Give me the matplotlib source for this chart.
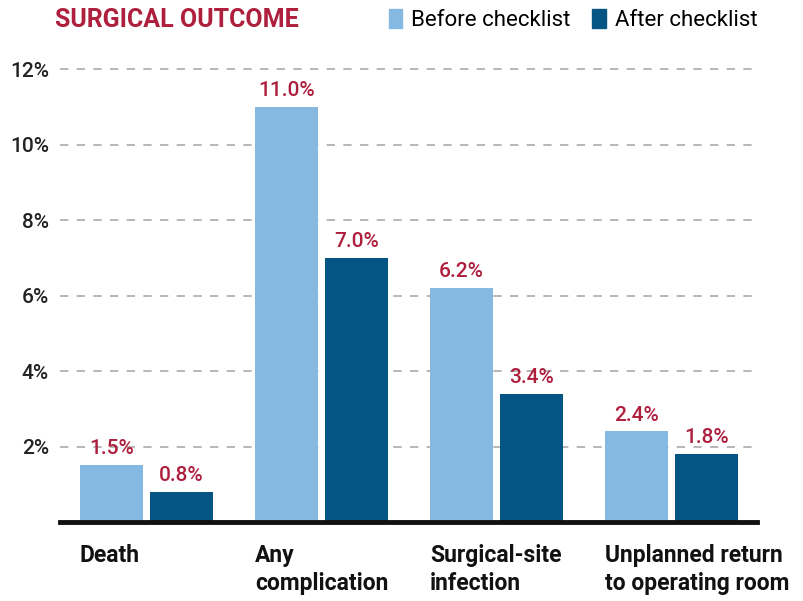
import numpy as np
import matplotlib.pyplot as plt
from matplotlib.patches import Patch

categories = ['Death', 'Any\ncomplication', 'Surgical-site\ninfection', 'Unplanned return\nto operating room']
before = [1.5, 11.0, 6.2, 2.4]
after = [0.8, 7.0, 3.4, 1.8]
yticks = [2, 4, 6, 8, 10, 12]

c_before = '#85B9E2'
c_after = '#055584'
c_red = '#AE1F3E'

plt.rcParams['font.family'] = ['Roboto', 'DejaVu Sans']

fig = plt.figure(figsize=(8.04, 6.01), dpi=100)
ax = fig.add_axes([0.0746, 0.1314, 0.867, 0.769])

x = np.arange(len(categories))
w = 0.36
off = 0.2
b1 = ax.bar(x - off, before, w, color=c_before, zorder=3)
b2 = ax.bar(x + off, after, w, color=c_after, zorder=3)

for bars, vals in ((b1, before), (b2, after)):
    for r, v in zip(bars, vals):
        ax.annotate(f'{v:.1f}%', (r.get_x() + r.get_width() / 2, v),
                    xytext=(0, 5), textcoords='offset points',
                    ha='center', va='bottom', color=c_red, fontsize=15,
                    fontweight='medium')

ax.set_xlim(-0.494, 3.489)
ax.set_ylim(0, 12.25)
ax.set_yticks(yticks)
ax.set_yticklabels([f'{t}%' for t in yticks], fontsize=15, color='#222222',
                   fontweight='medium')
ax.yaxis.grid(True, linestyle=(0, (5, 5)), color='#AAAAAA', lw=1.2, zorder=0)
ax.tick_params(axis='y', length=0, pad=8)
ax.tick_params(axis='x', length=0)
ax.set_xticks([])
for s in ['top', 'right', 'left']:
    ax.spines[s].set_visible(False)
ax.spines['bottom'].set_linewidth(3.5)
ax.spines['bottom'].set_color('#111111')
ax.spines['bottom'].set_zorder(5)

for i, lab in enumerate(categories):
    ax.text(i - off - w / 2, -0.58, lab, ha='left', va='top', fontsize=16.5,
            fontweight='bold', color='#111111', linespacing=1.3)

fig.text(0.068, 0.967, 'SURGICAL OUTCOME', ha='left', va='center',
         fontsize=18, fontweight='bold', color=c_red)

handles = [Patch(color=c_before, label='Before checklist'),
           Patch(color=c_after, label='After checklist')]
fig.legend(handles=handles, loc='center right', bbox_to_anchor=(0.953, 0.966),
           ncol=2, frameon=False, fontsize=16, handlelength=0.6, handleheight=0.9,
           handletextpad=0.4, columnspacing=1.0, borderaxespad=0)

fig.savefig('out.png', dpi=100)
